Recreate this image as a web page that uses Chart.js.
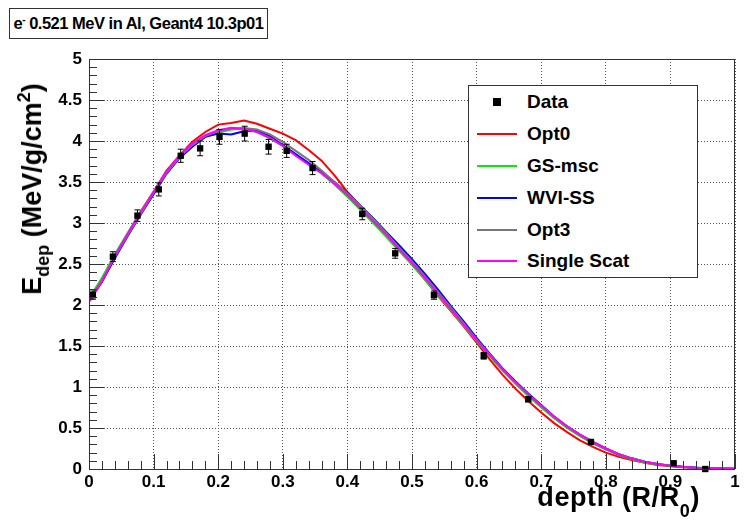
<!DOCTYPE html>
<html>
<head>
<meta charset="utf-8">
<title>e- 0.521 MeV in Al, Geant4 10.3p01</title>
<script src="https://cdn.jsdelivr.net/npm/chart.js@4/dist/chart.umd.min.js"></script>
<style>
  html, body { margin: 0; padding: 0; background: #fff; }
  #wrap { position: relative; width: 746px; height: 523px; overflow: hidden;
          font-family: "Liberation Sans", Arial, Helvetica, sans-serif; font-weight: bold; color: #000; }
  #c { position: absolute; left: 0; top: 0; }
  .title-box { position: absolute; left: 9px; top: 8px; width: 257px; height: 29px;
               border: 1px solid #333; background: #fff; font-size: 16.5px; line-height: 29px;
               letter-spacing: -0.5px; text-align: center; white-space: nowrap; }
  .title-box sup { font-size: 10px; vertical-align: 6px; line-height: 0; }
  .legend { position: absolute; left: 468px; top: 85px; width: 228px; height: 191px;
            border: 1px solid #333; background: #fff; }
  .row { position: absolute; left: 0; height: 24px; width: 100%; }
  .row .txt { position: absolute; left: 58px; top: 0; font-size: 19px; line-height: 24px; white-space: nowrap; }
  .row .ln { position: absolute; left: 8px; top: 11px; width: 40px; height: 2px; }
  .row .sq { position: absolute; left: 24px; top: 8px; width: 8px; height: 8px; background: #000; }
  .xtitle { position: absolute; right: 46px; top: 482px; font-size: 27px; line-height: 30px;
            letter-spacing: 0.6px; white-space: nowrap; }
  .xtitle sub { font-size: 18px; vertical-align: -11px; line-height: 0; }
  .ytitle { position: absolute; left: 32px; top: 189px; font-size: 27px; line-height: 30px; white-space: nowrap;
            transform: translate(-50%, -50%) rotate(-90deg); }
  .ytitle sub { font-size: 18px; vertical-align: -8px; line-height: 0; }
  .ytitle sup { font-size: 18px; vertical-align: 11px; line-height: 0; }
</style>
</head>
<body>
<div id="wrap">
  <canvas id="c" width="746" height="523"></canvas>
  <div class="title-box">e<sup>-</sup> 0.521 MeV in Al, Geant4 10.3p01</div>
  <div class="legend" id="legend"></div>
  <div class="xtitle">depth (R/R<sub>0</sub>)</div>
  <div class="ytitle">E<sub>dep</sub> (MeV/g/cm<sup>2</sup>)</div>
</div>
<script>
// Measured depth-dose points
const dataDepth = [0.006, 0.037, 0.075, 0.108, 0.142, 0.172, 0.202, 0.241, 0.278, 0.306,
                   0.346, 0.423, 0.474, 0.534, 0.611, 0.680, 0.777, 0.905, 0.954];
const dataEdep  = [2.12, 2.59, 3.09, 3.41, 3.82, 3.91, 4.05, 4.09, 3.93, 3.88,
                   3.67, 3.11, 2.63, 2.12, 1.38, 0.85, 0.33, 0.07, 0.00];
const dataErr   = [0.05, 0.06, 0.07, 0.08, 0.08, 0.09, 0.09, 0.09, 0.09, 0.08,
                   0.08, 0.07, 0.06, 0.05, 0.04, 0.03, 0.02, 0.01, 0.01];

// Simulation histograms, sampled every 0.02 in depth
const simDepth = [0.00, 0.02, 0.04, 0.06, 0.08, 0.10, 0.12, 0.14, 0.16, 0.18,
                  0.20, 0.22, 0.24, 0.26, 0.28, 0.30, 0.32, 0.34, 0.36, 0.38,
                  0.40, 0.42, 0.44, 0.46, 0.48, 0.50, 0.52, 0.54, 0.56, 0.58,
                  0.60, 0.62, 0.64, 0.66, 0.68, 0.70, 0.72, 0.74, 0.76, 0.78,
                  0.80, 0.82, 0.84, 0.86, 0.88, 0.90, 0.92, 0.94, 0.96, 0.98, 1.00];
const opt0 = [2.07, 2.32, 2.59, 2.87, 3.14, 3.38, 3.64, 3.82, 3.99, 4.11,
              4.20, 4.22, 4.25, 4.21, 4.15, 4.09, 4.01, 3.89, 3.76, 3.58,
              3.38, 3.21, 3.05, 2.88, 2.68, 2.50, 2.31, 2.11, 1.93, 1.74,
              1.54, 1.34, 1.15, 0.98, 0.83, 0.69, 0.56, 0.45, 0.35, 0.27,
              0.20, 0.15, 0.11, 0.075, 0.05, 0.035, 0.022, 0.013, 0.008, 0.004, 0.002];
const gsMsc = [2.08, 2.33, 2.62, 2.88, 3.14, 3.38, 3.62, 3.80, 3.94, 4.05,
               4.10, 4.14, 4.15, 4.11, 4.03, 3.94, 3.83, 3.72, 3.60, 3.47,
               3.32, 3.16, 3.00, 2.83, 2.66, 2.49, 2.31, 2.12, 1.94, 1.75,
               1.56, 1.38, 1.20, 1.04, 0.89, 0.75, 0.62, 0.50, 0.40, 0.31,
               0.24, 0.17, 0.12, 0.08, 0.055, 0.037, 0.023, 0.014, 0.008, 0.004, 0.002];
const wviSS = [2.05, 2.28, 2.57, 2.84, 3.10, 3.35, 3.60, 3.79, 3.93, 4.05,
               4.09, 4.08, 4.12, 4.13, 4.06, 3.95, 3.84, 3.73, 3.62, 3.50,
               3.37, 3.21, 3.06, 2.89, 2.73, 2.56, 2.38, 2.19, 1.99, 1.80,
               1.60, 1.41, 1.23, 1.07, 0.92, 0.78, 0.64, 0.52, 0.42, 0.33,
               0.25, 0.18, 0.13, 0.09, 0.06, 0.04, 0.026, 0.016, 0.009, 0.005, 0.002];
const opt3 = [2.06, 2.30, 2.59, 2.85, 3.11, 3.37, 3.61, 3.80, 3.95, 4.06,
              4.12, 4.15, 4.16, 4.14, 4.08, 3.99, 3.88, 3.77, 3.64, 3.50,
              3.36, 3.21, 3.05, 2.88, 2.70, 2.53, 2.35, 2.16, 1.97, 1.78,
              1.58, 1.40, 1.22, 1.06, 0.91, 0.77, 0.63, 0.52, 0.41, 0.32,
              0.24, 0.18, 0.13, 0.09, 0.06, 0.04, 0.025, 0.015, 0.009, 0.005, 0.002];
const singleScat = [2.04, 2.29, 2.60, 2.87, 3.13, 3.38, 3.63, 3.82, 3.97, 4.07,
                    4.13, 4.16, 4.15, 4.11, 4.04, 3.94, 3.82, 3.71, 3.61, 3.48,
                    3.34, 3.18, 3.02, 2.86, 2.68, 2.51, 2.33, 2.14, 1.95, 1.76,
                    1.57, 1.39, 1.22, 1.06, 0.91, 0.77, 0.64, 0.52, 0.42, 0.33,
                    0.25, 0.18, 0.13, 0.09, 0.06, 0.04, 0.025, 0.015, 0.009, 0.005, 0.002];

// Axis ticks
const xTicks = [0, 0.1, 0.2, 0.3, 0.4, 0.5, 0.6, 0.7, 0.8, 0.9, 1];
const yTicks = [0, 0.5, 1, 1.5, 2, 2.5, 3, 3.5, 4, 4.5, 5];

const simSeries = [
  { label: 'Opt0',        values: opt0,       color: '#ff0000' },
  { label: 'GS-msc',      values: gsMsc,      color: '#00ee00' },
  { label: 'WVI-SS',      values: wviSS,      color: '#0000ff' },
  { label: 'Opt3',        values: opt3,       color: '#777777' },
  { label: 'Single Scat', values: singleScat, color: '#ff00ff' }
];

const pts = (xs, ys) => xs.map((x, i) => ({ x: x, y: ys[i] }));

// Data drawn first in the list so it sits on top; later simulation curves sit above earlier ones
const datasets = [{
  label: 'Data',
  data: pts(dataDepth, dataEdep),
  showLine: false,
  pointStyle: 'rect',
  pointRadius: 4.5,
  pointBackgroundColor: '#000',
  pointBorderColor: '#000',
  pointBorderWidth: 0,
  clip: false
}];
simSeries.slice().reverse().forEach(s => {
  datasets.push({
    label: s.label,
    data: pts(simDepth, s.values),
    borderColor: s.color,
    backgroundColor: s.color,
    borderWidth: 2,
    pointRadius: 0,
    tension: 0,
    fill: false
  });
});

// Error bars with small end caps on the measured points
const errorBars = {
  id: 'errorBars',
  afterDatasetDraw(chart, args) {
    if (args.index !== 0) return;
    const { ctx, scales: { x, y } } = chart;
    ctx.save();
    ctx.strokeStyle = '#000';
    ctx.lineWidth = 1;
    dataDepth.forEach((d, i) => {
      const px = x.getPixelForValue(d);
      const y1 = y.getPixelForValue(dataEdep[i] - dataErr[i]);
      const y2 = y.getPixelForValue(dataEdep[i] + dataErr[i]);
      ctx.beginPath();
      ctx.moveTo(px, y1); ctx.lineTo(px, y2);
      ctx.moveTo(px - 3, y1); ctx.lineTo(px + 3, y1);
      ctx.moveTo(px - 3, y2); ctx.lineTo(px + 3, y2);
      ctx.stroke();
    });
    ctx.restore();
  }
};

// Frame around the plot with inward major and minor ticks on the bottom and left axes
const frameTicks = {
  id: 'frameTicks',
  afterDraw(chart) {
    const { ctx, chartArea: a, scales: { x, y } } = chart;
    ctx.save();
    ctx.strokeStyle = '#333';
    ctx.lineWidth = 1;
    ctx.strokeRect(a.left + 0.5, a.top + 0.5, a.right - a.left - 1, a.bottom - a.top);
    ctx.beginPath();
    for (let k = 0; k <= 50; k++) {
      const px = Math.round(x.getPixelForValue(k * 0.02)) + 0.5;
      const len = (k % 5 === 0) ? 15 : 8;
      ctx.moveTo(px, a.bottom);
      ctx.lineTo(px, a.bottom - len);
    }
    for (let k = 0; k <= 50; k++) {
      const py = Math.round(y.getPixelForValue(k * 0.1)) + 0.5;
      const len = (k % 5 === 0) ? 15 : 8;
      ctx.moveTo(a.left, py);
      ctx.lineTo(a.left + len, py);
    }
    ctx.stroke();
    ctx.restore();
  }
};

const tickFont = { family: '"Liberation Sans", Arial, sans-serif', size: 17, weight: 'bold' };

new Chart(document.getElementById('c'), {
  type: 'line',
  data: { datasets: datasets },
  options: {
    responsive: false,
    animation: false,
    layout: { padding: { left: 0, top: 59, right: 11, bottom: 0 } },
    plugins: { legend: { display: false }, tooltip: { enabled: false }, title: { display: false } },
    scales: {
      x: {
        type: 'linear', min: 0, max: 1,
        afterBuildTicks(scale) { scale.ticks = xTicks.map(v => ({ value: v })); },
        afterFit(scale) { scale.height = 54; },
        ticks: { font: tickFont, color: '#000', padding: 3, maxRotation: 0, autoSkip: false,
                 callback: v => String(+v.toFixed(1)) },
        grid: { color: '#555', lineWidth: 1, drawTicks: false },
        border: { display: false, dash: [1, 2] }
      },
      y: {
        type: 'linear', min: 0, max: 5,
        afterBuildTicks(scale) { scale.ticks = yTicks.map(v => ({ value: v })); },
        afterFit(scale) { scale.width = 89; },
        ticks: { font: tickFont, color: '#000', padding: 7, autoSkip: false,
                 callback: v => String(+v.toFixed(1)) },
        grid: { color: '#555', lineWidth: 1, drawTicks: false },
        border: { display: false, dash: [1, 2] }
      }
    }
  },
  plugins: [errorBars, frameTicks]
});

// Legend box entries
const legendEl = document.getElementById('legend');
const rowCenters = [16, 48, 80, 112, 144, 175];
const entries = [{ label: 'Data', marker: true }].concat(simSeries);
entries.forEach((e, i) => {
  const row = document.createElement('div');
  row.className = 'row';
  row.style.top = (rowCenters[i] - 12) + 'px';
  const mark = document.createElement('div');
  if (e.marker) { mark.className = 'sq'; }
  else { mark.className = 'ln'; mark.style.background = e.color; }
  const txt = document.createElement('div');
  txt.className = 'txt';
  txt.textContent = e.label;
  row.appendChild(mark);
  row.appendChild(txt);
  legendEl.appendChild(row);
});
</script>
</body>
</html>
